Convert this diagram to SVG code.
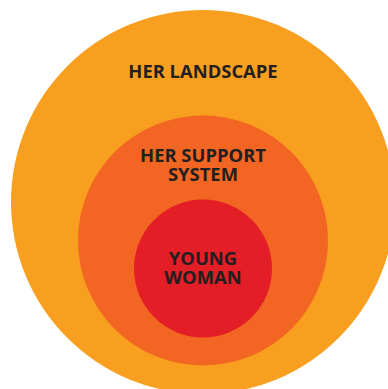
<svg xmlns="http://www.w3.org/2000/svg" width="388" height="389" viewBox="0 0 388 389">
<style>
.t{font-family:"Open Sans","Liberation Sans",sans-serif;font-weight:700;font-size:18.4px;fill:#231f20;text-anchor:middle}
</style>
<rect width="388" height="389" fill="#ffffff"/>
<g id="landscape">
<circle cx="203" cy="202" r="192" fill="#f89f1f"/>
<text class="t" x="203" y="78">HER LANDSCAPE</text>
</g>
<g id="support">
<circle cx="203" cy="240.5" r="125" fill="#f26522"/>
<text class="t" x="203" y="162"><tspan x="203">HER SUPPORT</tspan><tspan x="203" dy="19">SYSTEM</tspan></text>
</g>
<g id="woman">
<circle cx="203" cy="268.5" r="69" fill="#e41e26"/>
<text class="t" x="203" y="265"><tspan x="203">YOUNG</tspan><tspan x="203" dy="18.5">WOMAN</tspan></text>
</g>
<g id="connectors"/>
</svg>
